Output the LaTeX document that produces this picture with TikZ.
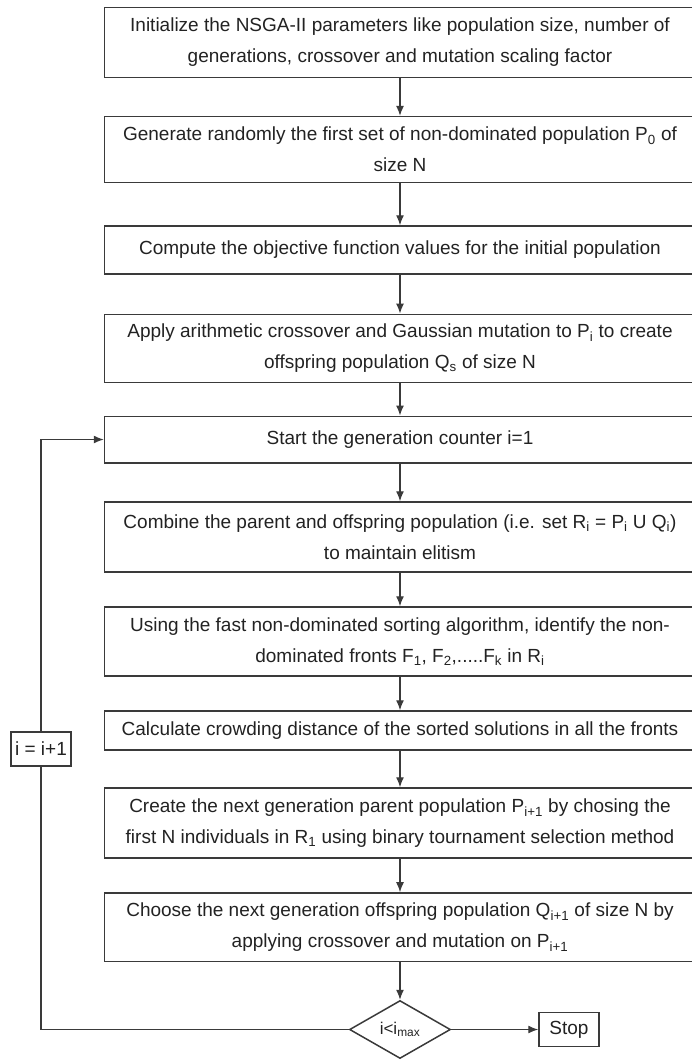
\documentclass[tikz,border=0pt]{standalone}
\usepackage{fontspec}
\setmainfont{Liberation Sans}
\usetikzlibrary{shapes.geometric,arrows.meta}
\definecolor{linec}{HTML}{3A3A3A}
\definecolor{textc}{HTML}{222222}
\newcommand\ssub[1]{\textsubscript{#1}}
\begin{document}
\begin{tikzpicture}[x=1pt,y=-1pt,
  every node/.style={text=textc},
  box/.style={draw=linec, line width=1.5pt, minimum width=591pt, inner sep=0pt,
    align=center, font=\fontsize{19}{31}\selectfont},
  smallbox/.style={draw=linec, line width=1.5pt, inner sep=0pt, minimum width=60pt,
    minimum height=34pt, font=\fontsize{19}{23}\selectfont},
  decision/.style={diamond, draw=linec, line width=1.5pt, inner sep=0pt,
    minimum width=101pt, minimum height=58pt, font=\fontsize{17}{20}\selectfont},
  conn/.style={draw=linec, line width=1.3pt},
  arr/.style={conn, -{Latex[length=10pt,width=8pt]}}]
\clip (0,0) rectangle (692,1061);
\node[box, minimum height=70pt] (b1) at (400,42.3)
  {Initialize the NSGA-II parameters like population size, number of\\generations, crossover and mutation scaling factor};
\node[box, minimum height=66pt] (b2) at (400,149.6)
  {Generate randomly the first set of non-dominated population P\ssub{0} of\\size N};
\node[box, minimum height=48pt] (b3) at (400,250)
  {Compute the objective function values for the initial population};
\node[box, minimum height=68.4pt] (b4) at (400,348.5)
  {Apply arithmetic crossover and Gaussian mutation to P\ssub{i} to create\\offspring population Q\ssub{s} of size N};
\node[box, minimum height=46.5pt] (b5) at (400,439.5)
  {Start the generation counter i=1};
\node[box, minimum height=70pt] (b6) at (400,537)
  {Combine the parent and offspring population (i.e. set R\ssub{i} = P\ssub{i} U Q\ssub{i})\\to maintain elitism};
\node[box, minimum height=69pt] (b7) at (400,641.5)
  {Using the fast non-dominated sorting algorithm, identify the non-\\dominated fronts F\ssub{1}, F\ssub{2},.....F\ssub{k} in R\ssub{i}};
\node[box, minimum height=39pt] (b8) at (400,730.5)
  {Calculate crowding distance of the sorted solutions in all the fronts};
\node[box, minimum height=70pt] (b9) at (400,823)
  {Create the next generation parent population P\ssub{i+1} by chosing the\\first N individuals in R\ssub{1} using binary tournament selection method};
\node[box, minimum height=68.7pt] (b10) at (400,927.3)
  {Choose the next generation offspring population Q\ssub{i+1} of size N by\\applying crossover and mutation on P\ssub{i+1}};
\node[decision] (d) at (400,1029.5) {i<i\ssub{max}};
\node[smallbox] (stop) at (569,1029.5) {Stop};
\node[smallbox] (inc) at (41,749) {i = i+1};

\draw[arr] (b1) -- (b2);
\draw[arr] (b2) -- (b3);
\draw[arr] (b3) -- (b4);
\draw[arr] (b4) -- (b5);
\draw[arr] (b5) -- (b6);
\draw[arr] (b6) -- (b7);
\draw[arr] (b7) -- (b8);
\draw[arr] (b8) -- (b9);
\draw[arr] (b9) -- (b10);
\draw[arr] (b10) -- (d);
\draw[arr] (d.east) -- (stop.west);
\draw[conn] (d.west) -| (inc.south);
\draw[arr] (inc.north) |- (b5.west);
\end{tikzpicture}
\end{document}
